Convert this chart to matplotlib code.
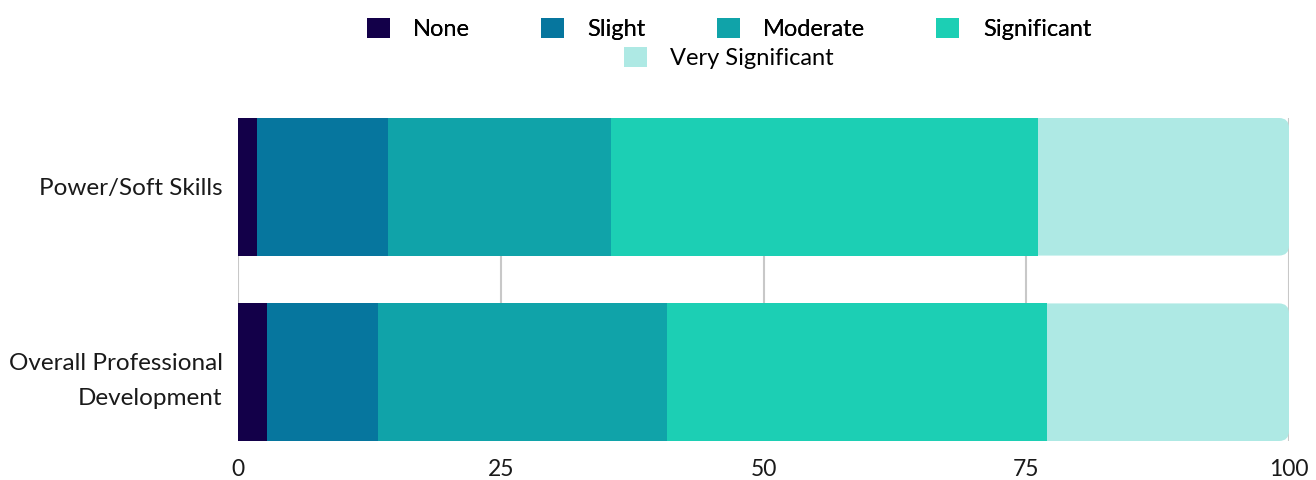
import matplotlib.pyplot as plt
import numpy as np
from matplotlib.patches import Patch, FancyBboxPatch

plt.rcParams["font.family"] = ["Lato", "DejaVu Sans"]

categories = ["Power/Soft Skills", "Overall Professional\nDevelopment"]
levels = ["None", "Slight", "Moderate", "Significant", "Very Significant"]
none_vals = [1.8, 2.8]
slight_vals = [12.5, 10.5]
moderate_vals = [21.2, 27.5]
significant_vals = [40.6, 36.2]
very_vals = [23.9, 23.0]
x_ticks = [0, 25, 50, 75, 100]

COLORS = ["#130049", "#06769E", "#10A3A9", "#1CCFB4", "#AEE9E4"]
BAR_H = 0.742
RADIUS_PX = 10

fig = plt.figure(figsize=(13.16, 4.8), dpi=100)
W, H = 1316, 480
ax = fig.add_axes([238 / W, 1 - 441 / H, (1289 - 238) / W, (441 - 118) / H])

series = [none_vals, slight_vals, moderate_vals, significant_vals, very_vals]
y = np.arange(len(categories))
left = np.zeros(len(categories))
containers = []
for vals, color, name in zip(series, COLORS, levels):
    c = ax.barh(y, vals, left=left, height=BAR_H, color=color, label=name,
                zorder=3, linewidth=0)
    containers.append(c)
    left = left + np.array(vals)

ax.set_xlim(0, 100)
ax.set_ylim(len(categories) - 1 + BAR_H / 2, -BAR_H / 2)

# round the right end of the last segment; the patch reaches a little
# under the previous segment so only the right corners show as rounded
fig.canvas.draw()
px_x = ax.transData.transform((1, 0))[0] - ax.transData.transform((0, 0))[0]
px_y = abs(ax.transData.transform((0, 1))[1] - ax.transData.transform((0, 0))[1])
rx = RADIUS_PX / px_x
ry = RADIUS_PX / px_y
for rect in containers[-1]:
    rect.set_visible(False)
    x0, y0 = rect.get_x(), rect.get_y()
    w, h = rect.get_width(), rect.get_height()
    rounded = FancyBboxPatch((x0, y0 + ry), w - rx, h - 2 * ry,
                             boxstyle=f"round,pad={rx},rounding_size={rx}",
                             mutation_aspect=ry / rx,
                             facecolor=rect.get_facecolor(), linewidth=0, zorder=2.5)
    ax.add_patch(rounded)

ax.set_xticks(x_ticks)
ax.set_yticks(y)
ax.set_yticklabels(categories, fontsize=17.5, color="#1a1a1a", linespacing=1.8)
ax.tick_params(axis="x", labelsize=16.5, colors="#1a1a1a", length=0, pad=13)
ax.tick_params(axis="y", length=0, pad=11)
ax.grid(True, axis="x", color="#c8c8c8", linewidth=1.5, zorder=0)
ax.set_axisbelow(True)
for s in ax.spines.values():
    s.set_visible(False)

handles = [Patch(facecolor=c, label=n) for c, n in zip(COLORS, levels)]
leg_kw = dict(frameon=False, fontsize=17, handlelength=0.97, handleheight=0.97,
              handletextpad=1.0, borderpad=0, borderaxespad=0, loc="center")
leg1 = fig.legend(handles=handles[:4], ncol=4, columnspacing=3.0,
                  bbox_to_anchor=(729 / W, 1 - 29 / H), **leg_kw)
fig.legend(handles=handles[4:], ncol=1,
           bbox_to_anchor=(729 / W, 1 - 58 / H), **leg_kw)
fig.add_artist(leg1)

fig.savefig("out.png", dpi=100)
